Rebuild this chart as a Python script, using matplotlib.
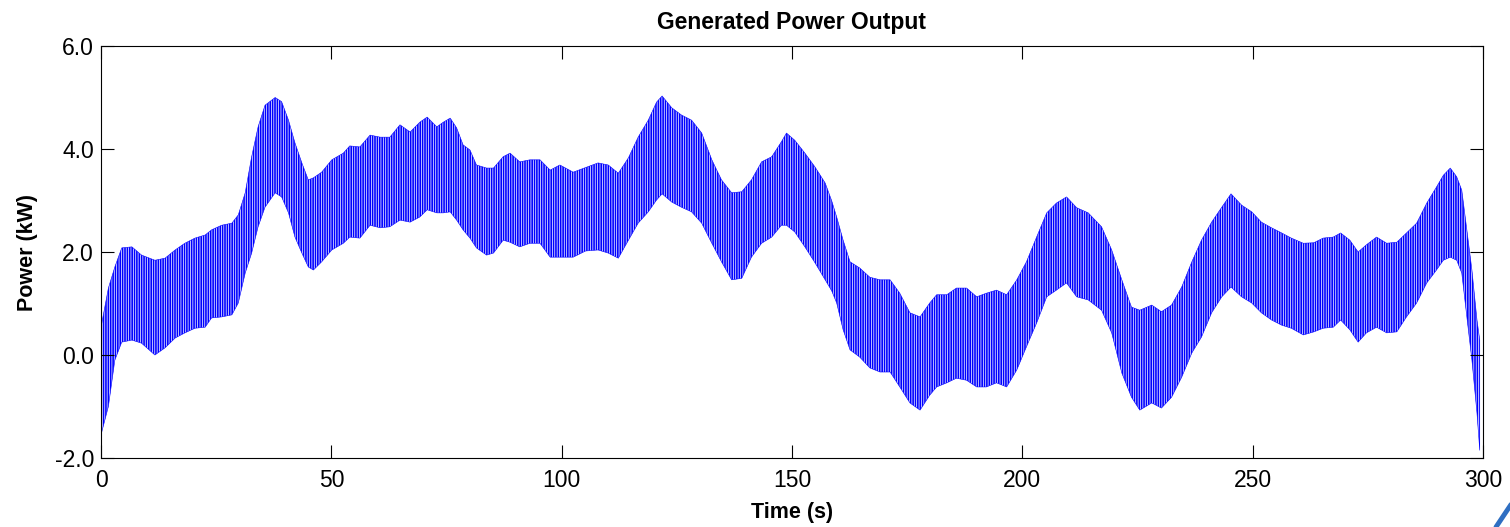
import numpy as np
import matplotlib
matplotlib.use("Agg")
import matplotlib.pyplot as plt
from matplotlib.ticker import FormatStrFormatter
from matplotlib.lines import Line2D

plt.rcParams['font.family'] = ['Liberation Sans', 'DejaVu Sans']
plt.rcParams['axes.unicode_minus'] = False
plt.rcParams['hatch.linewidth'] = 1.2

# envelope of the fast oscillation (time in s, power in kW)
t_s = [0.0, 1.6, 3.0, 4.5, 6.7, 8.8, 11.7, 13.9, 16.1, 18.2, 20.4, 22.6, 24.0, 26.2,
       28.4, 29.8, 31.3, 32.7, 34.1, 35.6, 37.8, 39.2, 40.7, 42.1, 43.6, 45.0, 46.1,
       47.9, 50.1, 52.6, 54.0, 56.2, 58.4, 60.6, 62.7, 64.9, 67.1, 69.2, 70.8, 72.9,
       74.3, 75.8, 77.2, 78.6, 80.1, 81.5, 83.7, 85.2, 87.3, 88.8, 90.9, 93.1, 95.3,
       97.5, 99.6, 102.5, 105.2, 107.9, 110.1, 112.3, 114.5, 116.6, 118.8, 120.6,
       121.8, 123.9, 126.0, 128.2, 130.4, 132.6, 134.7, 136.9, 139.1, 141.2, 143.4,
       145.6, 147.7, 148.8, 150.6, 152.8, 155.0, 157.2, 158.6, 159.7, 161.1, 162.6,
       164.7, 166.9, 169.1, 171.3, 173.4, 175.6, 177.8, 179.9, 181.4, 183.6, 185.7,
       187.9, 190.1, 192.2, 194.4, 196.6, 198.8, 200.9, 203.1, 205.3, 207.4, 209.6,
       211.8, 214.3, 217.2, 219.4, 221.6, 223.7, 225.5, 228.1, 230.2, 232.4, 234.6,
       236.8, 238.9, 241.1, 243.3, 245.3, 247.6, 249.8, 251.9, 254.1, 256.3, 258.4,
       261.0, 263.3, 265.3, 267.5, 269.1, 271.1, 272.9, 274.7, 276.9, 279.1, 281.3,
       283.4, 285.6, 287.8, 289.9, 291.4, 292.9, 294.3, 295.4, 296.5, 297.6, 298.7,
       299.3]
upper_kw = [0.54, 1.30, 1.71, 2.08, 2.10, 1.94, 1.84, 1.88, 2.04, 2.17, 2.27, 2.33, 2.43,
            2.52, 2.56, 2.72, 3.15, 3.85, 4.43, 4.85, 5.00, 4.92, 4.56, 4.12, 3.73, 3.40,
            3.44, 3.55, 3.79, 3.92, 4.06, 4.04, 4.27, 4.23, 4.23, 4.47, 4.33, 4.52, 4.62,
            4.43, 4.52, 4.60, 4.41, 4.08, 3.98, 3.69, 3.63, 3.63, 3.85, 3.92, 3.75, 3.79,
            3.79, 3.59, 3.69, 3.55, 3.64, 3.73, 3.69, 3.53, 3.83, 4.23, 4.56, 4.91, 5.03,
            4.80, 4.66, 4.56, 4.31, 3.79, 3.40, 3.15, 3.17, 3.40, 3.75, 3.85, 4.14, 4.31,
            4.17, 3.92, 3.65, 3.34, 3.00, 2.68, 2.23, 1.81, 1.69, 1.51, 1.46, 1.46, 1.20,
            0.82, 0.74, 1.01, 1.17, 1.17, 1.30, 1.30, 1.13, 1.20, 1.26, 1.17, 1.46, 1.81,
            2.29, 2.76, 2.95, 3.07, 2.86, 2.76, 2.49, 2.04, 1.46, 0.93, 0.87, 0.97, 0.84,
            0.97, 1.32, 1.81, 2.23, 2.58, 2.87, 3.13, 2.91, 2.78, 2.58, 2.47, 2.37, 2.27,
            2.17, 2.18, 2.27, 2.29, 2.37, 2.23, 2.00, 2.14, 2.29, 2.17, 2.19, 2.37, 2.56,
            2.95, 3.26, 3.49, 3.63, 3.46, 3.20, 2.43, 1.65, 0.68, 0.29]
lower_kw = [-1.55, -1.00, -0.10, 0.25, 0.29, 0.23, 0.00, 0.14, 0.33, 0.43, 0.52, 0.54, 0.72,
            0.74, 0.78, 1.01, 1.59, 1.98, 2.49, 2.87, 3.15, 3.07, 2.76, 2.29, 1.98, 1.71,
            1.65, 1.81, 2.04, 2.17, 2.29, 2.27, 2.52, 2.47, 2.49, 2.62, 2.58, 2.68, 2.82,
            2.76, 2.76, 2.78, 2.62, 2.43, 2.27, 2.08, 1.94, 1.98, 2.23, 2.19, 2.10, 2.17,
            2.17, 1.90, 1.90, 1.90, 2.02, 2.04, 1.98, 1.88, 2.23, 2.56, 2.78, 3.01, 3.13,
            2.97, 2.87, 2.78, 2.56, 2.17, 1.81, 1.46, 1.49, 1.90, 2.17, 2.29, 2.52, 2.52,
            2.39, 2.10, 1.79, 1.46, 1.25, 1.01, 0.49, 0.10, -0.04, -0.25, -0.33, -0.33,
            -0.62, -0.93, -1.07, -0.78, -0.62, -0.54, -0.45, -0.49, -0.62, -0.62, -0.54,
            -0.62, -0.29, 0.16, 0.62, 1.13, 1.26, 1.40, 1.13, 1.07, 0.87, 0.43, -0.35,
            -0.82, -1.07, -0.93, -1.03, -0.82, -0.43, 0.04, 0.35, 0.82, 1.13, 1.32, 1.13,
            1.01, 0.82, 0.68, 0.58, 0.52, 0.39, 0.45, 0.52, 0.54, 0.68, 0.49, 0.25, 0.43,
            0.54, 0.43, 0.45, 0.74, 1.01, 1.40, 1.65, 1.84, 1.90, 1.84, 1.59, 0.74, -0.10,
            -1.13, -1.85]

x_ticks = [0, 50, 100, 150, 200, 250, 300]
y_ticks = [-2.0, 0.0, 2.0, 4.0, 6.0]

fig = plt.figure(figsize=(15.1, 5.27), dpi=100)
ax = fig.add_axes([0.0669, 0.1309, 0.9152, 0.7818])

# dense oscillation drawn as a vertically hatched band between the envelopes
ax.fill_between(t_s, lower_kw, upper_kw, facecolor='white', edgecolor='#0000ff',
                hatch='|||||||', linewidth=0.4)

ax.set_xlim(0, 300)
ax.set_ylim(-2, 6)
ax.set_xticks(x_ticks)
ax.set_yticks(y_ticks)
ax.yaxis.set_major_formatter(FormatStrFormatter('%.1f'))
ax.tick_params(direction='in', length=9.5, width=0.8, top=True, right=True,
               labelsize=16.5)
ax.tick_params(axis='x', pad=8)
ax.tick_params(axis='y', pad=5)
for sp in ax.spines.values():
    sp.set_linewidth(0.8)

ax.set_title('Generated Power Output', fontsize=16.5, fontweight='bold', pad=12)
ax.set_xlabel('Time (s)', fontsize=15.5, fontweight='bold', labelpad=7)
ax.set_ylabel('Power (kW)', fontsize=15.5, fontweight='bold', labelpad=12)

# partial logo stroke in the lower right corner
fig.add_artist(Line2D([1496 / 1510, 1512 / 1510], [1 - 527 / 527, 1 - 503 / 527],
                      color='#2f6fc2', linewidth=3.5, solid_capstyle='round'))

fig.savefig('out.png', dpi=100)
